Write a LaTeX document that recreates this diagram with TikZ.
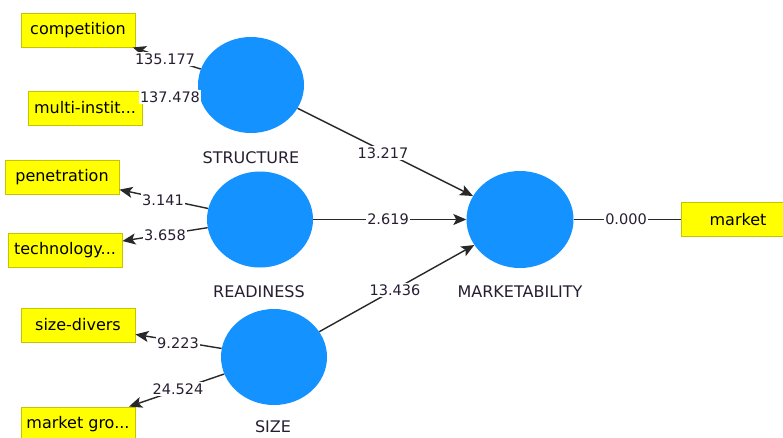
\documentclass[tikz,border=0pt]{standalone}
\usepackage{fontspec}
\setmainfont{DejaVu Sans}
\usetikzlibrary{shapes.geometric,arrows.meta}
\definecolor{lvblue}{RGB}{20,146,255}
\definecolor{mvyellow}{RGB}{255,255,0}
\definecolor{mvborder}{RGB}{196,196,0}
\definecolor{txt}{RGB}{40,30,50}
\definecolor{edge}{RGB}{40,40,40}
\tikzset{
  latent/.style={ellipse, fill=lvblue, draw=none, minimum width=106pt, minimum height=96pt, inner sep=0pt},
  manifest/.style={rectangle, fill=mvyellow, draw=mvborder, line width=0.9pt, minimum width=114pt, minimum height=34pt, inner sep=0pt, font=\fontsize{16}{18}\selectfont, text=black},
  caption/.style={font=\fontsize{16}{18}\selectfont, text=txt},
  wlabel/.style={fill=white, inner sep=1.5pt, font=\fontsize{14.5}{16}\selectfont, text=txt},
  conn/.style={draw=edge, line width=1.4pt},
  arr/.style={conn, -{Stealth[length=13pt,width=11pt,inset=3pt]}},
}
\begin{document}
\begin{tikzpicture}[x=1pt,y=-1pt]
\useasboundingbox[fill=white] (0,0) rectangle (783,437);
% latent variables
\node[latent] (structure) at (251,85) {};
\node[latent] (readiness) at (260,219.5) {};
\node[latent] (size) at (274,357) {};
\node[latent, minimum width=107pt, minimum height=97pt] (mkt) at (520,219.5) {};
% captions
\node[caption] (cstructure) at (251,158) {STRUCTURE};
\node[caption] (creadiness) at (259,292) {READINESS};
\node[caption] (csize) at (273,427) {SIZE};
\node[caption] (cmkt) at (520,292) {MARKETABILITY};
% indicators
\node[manifest] (competition) at (78,30) {competition};
\node[manifest] (multi) at (85,108) {multi-instit...};
\node[manifest] (penetration) at (62,177.5) {penetration};
\node[manifest] (technology) at (65,250) {technology...};
\node[manifest] (sizediv) at (78,325) {size-divers};
\node[manifest] (mgrowth) at (78,424) {market gro...};
\node[manifest] (market) at (738,219.5) {market};
% outer model
\draw[arr] (structure) -- (competition);
\draw[arr] (structure) -- (multi);
\draw[arr] (readiness) -- (penetration);
\draw[arr] (readiness) -- (technology);
\draw[arr] (size) -- (sizediv);
\draw[arr] (size) -- (mgrowth);
\draw[conn] (mkt.east) -- (market.west);
% inner model
\draw[arr] (structure) -- (mkt);
\draw[arr] (readiness.east) -- (mkt.west);
\draw[arr] (size) -- (mkt);
% weights
\node[wlabel] (w1) at (165,59) {135.177};
\node[wlabel] (w2) at (170,97) {137.478};
\node[wlabel] (w3) at (163,200) {3.141};
\node[wlabel] (w4) at (165,235) {3.658};
\node[wlabel] (w5) at (178,343) {9.223};
\node[wlabel] (w6) at (178,389) {24.524};
\node[wlabel] (w7) at (383,153) {13.217};
\node[wlabel] (w8) at (388,219.5) {2.619};
\node[wlabel] (w9) at (395,290) {13.436};
\node[wlabel] (w10) at (626,219.5) {0.000};
\end{tikzpicture}
\end{document}
